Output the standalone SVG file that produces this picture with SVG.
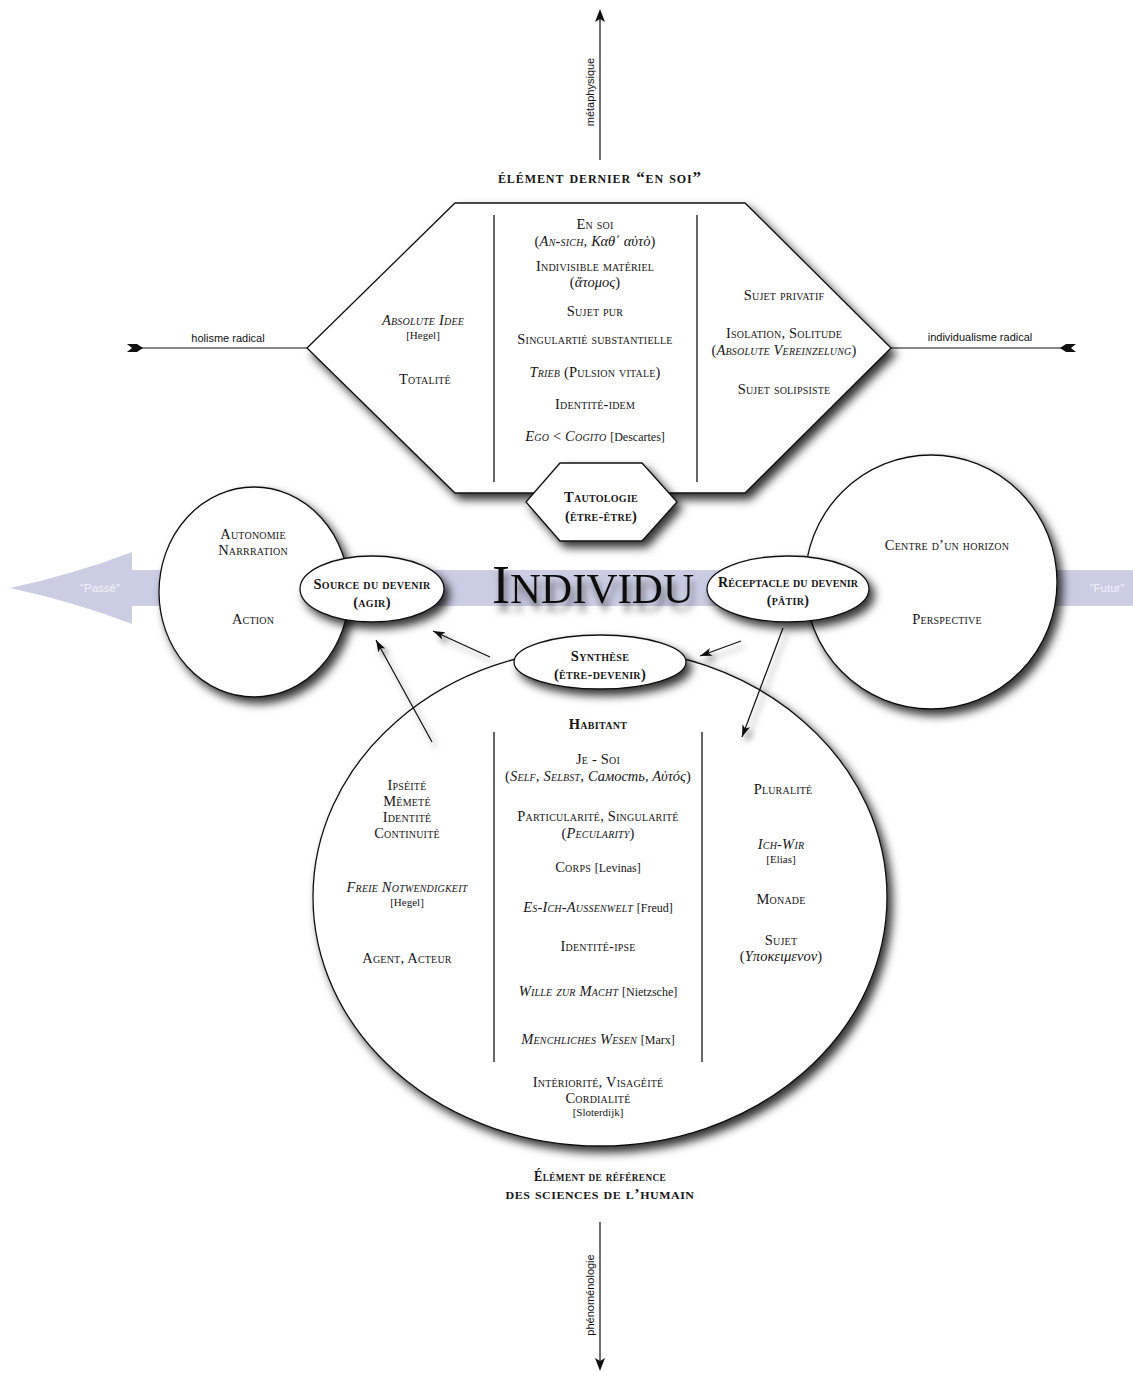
<svg xmlns="http://www.w3.org/2000/svg" width="1133" height="1374" viewBox="0 0 1133 1374">
<defs>
<style>
.t{font-family:"Liberation Serif",serif;font-size:14.5px;font-variant:small-caps;text-anchor:middle;fill:#161616;letter-spacing:0.2px}
.b{font-weight:bold;font-size:14.5px;letter-spacing:0.3px}
.h{font-weight:bold;font-size:17px;letter-spacing:0.9px}
.i{font-style:italic}
.g{font-variant:normal;letter-spacing:0}
.r{font-size:12px;font-variant:normal;letter-spacing:0}
.rs{font-size:11px;font-variant:normal;letter-spacing:0}
.s{font-family:"Liberation Sans",sans-serif;font-size:11px;fill:#111;text-anchor:middle}
.w{font-family:"Liberation Sans",sans-serif;font-size:11.5px;fill:#f2f3fa;text-anchor:middle}
.sh{fill:#fff;stroke:#111;stroke-width:1.3}
.div{stroke:#333;stroke-width:1.5;fill:none}
.ln{stroke:#111;stroke-width:1.2;fill:none}
</style>
<filter id="ds" x="-20%" y="-20%" width="150%" height="150%"><feDropShadow dx="5" dy="6" stdDeviation="5" flood-color="#000" flood-opacity="0.8"/></filter>
<filter id="ts" x="-10%" y="-30%" width="120%" height="170%"><feDropShadow dx="3" dy="8" stdDeviation="3.5" flood-color="#000" flood-opacity="0.5"/></filter>
<filter id="as" x="-50%" y="-50%" width="200%" height="200%"><feDropShadow dx="4" dy="5" stdDeviation="3" flood-color="#000" flood-opacity="0.5"/></filter>
<marker id="ah" viewBox="0 0 12 8" refX="12" refY="4" markerWidth="12" markerHeight="8" markerUnits="userSpaceOnUse" orient="auto"><path d="M0,0 L12,4 L0,8 L3,4 Z" fill="#111"/></marker>
</defs>

<g id="band">
<path d="M10,588 Q75,574 132,552 L132,570 L1133,570 L1133,606 L132,606 L132,624 Q75,602 10,588 Z" fill="#cbcde4"/>
<text class="w" x="100" y="592">“Passé”</text>
<text class="w" x="1107" y="592">“Futur”</text>
</g>

<g id="axes">
<line class="ln" x1="600" y1="160" x2="600" y2="18"/>
<path d="M600,9 L605,22 L600,19 L595,22 Z" fill="#111"/>
<text class="s" transform="translate(594,92) rotate(-90)" font-size="11.5">métaphysique</text>
<line class="ln" x1="600" y1="1222" x2="600" y2="1362"/>
<path d="M600,1371 L605,1358 L600,1361 L595,1358 Z" fill="#111"/>
<text class="s" transform="translate(594,1295) rotate(-90)" font-size="11.5">phénoménologie</text>
<line class="ln" x1="135" y1="348" x2="307" y2="348"/>
<path d="M127,344 L137,344 L143,348 L137,352 L127,352 L132,348 Z" fill="#111"/>
<text class="s" x="228" y="342">holisme radical</text>
<line class="ln" x1="891" y1="348" x2="1068" y2="348"/>
<path d="M1076,344 L1066,344 L1060,348 L1066,352 L1076,352 L1071,348 Z" fill="#111"/>
<text class="s" x="980" y="341">individualisme radical</text>
</g>

<g id="title-top"><text class="t h" x="600" y="183">élément dernier “en soi”</text></g>

<g id="hexagone">
<polygon class="sh" filter="url(#ds)" points="455,203 745,203 891,348 745,493 455,493 307,348"/>
<line class="div" x1="494" y1="215" x2="494" y2="482"/>
<line class="div" x1="697" y1="215" x2="697" y2="482"/>
<text class="t" x="595" y="229">En soi</text>
<text class="t" x="595" y="246">(<tspan class="i">An-sich, </tspan><tspan class="i g">Καθ΄ αὑτὸ</tspan>)</text>
<text class="t" x="595" y="271">Indivisible matériel</text>
<text class="t" x="595" y="287">(<tspan class="i g">ἄτομος</tspan>)</text>
<text class="t" x="595" y="316">Sujet pur</text>
<text class="t" x="595" y="344">Singulartié substantielle</text>
<text class="t" x="595" y="377"><tspan class="i">Trieb</tspan> (Pulsion vitale)</text>
<text class="t" x="595" y="409">Identité-idem</text>
<text class="t" x="595" y="441"><tspan class="i">Ego</tspan> &lt; <tspan class="i">Cogito</tspan> <tspan class="r">[Descartes]</tspan></text>
<text class="t i" x="423" y="325">Absolute Idee</text>
<text class="t rs" x="423" y="339">[Hegel]</text>
<text class="t" x="425" y="384">Totalité</text>
<text class="t" x="784" y="300">Sujet privatif</text>
<text class="t" x="784" y="338">Isolation, Solitude</text>
<text class="t" x="784" y="355">(<tspan class="i">Absolute Vereinzelung</tspan>)</text>
<text class="t" x="784" y="394">Sujet solipsiste</text>
</g>

<g id="tautologie">
<polygon class="sh" filter="url(#ds)" points="560,463 642,463 677,502 642,541 560,541 526,502"/>
<text class="t b" x="601" y="502">Tautologie</text>
<text class="t b" x="601" y="521">(être-être)</text>
</g>

<g id="cercle-gauche">
<ellipse class="sh" filter="url(#ds)" cx="254" cy="592" rx="95" ry="105"/>
<text class="t" x="253" y="539">Autonomie</text>
<text class="t" x="253" y="555">Narrration</text>
<text class="t" x="253" y="624">Action</text>
</g>

<g id="cercle-droit">
<ellipse class="sh" filter="url(#ds)" cx="931" cy="582" rx="126" ry="127"/>
<text class="t" x="947" y="550">Centre d’un horizon</text>
<text class="t" x="947" y="624">Perspective</text>
</g>

<g id="source">
<ellipse class="sh" filter="url(#ds)" cx="372" cy="589" rx="72" ry="33"/>
<text class="t b" x="372" y="589" font-size="14px">Source du devenir</text>
<text class="t b" x="372" y="607" font-size="14px">(agir)</text>
</g>

<g id="receptacle">
<ellipse class="sh" filter="url(#ds)" cx="788" cy="589" rx="81" ry="33"/>
<text class="t b" x="788" y="587" style="font-size:14px;letter-spacing:0.1px">Réceptacle du devenir</text>
<text class="t b" x="788" y="605" style="font-size:14px">(pâtir)</text>
</g>

<g id="individu">
<text x="593" y="603" font-family="'Liberation Serif',serif" font-size="54" text-anchor="middle" fill="#111" filter="url(#ts)">I<tspan font-size="43" style="text-transform:uppercase">ndividu</tspan></text>
</g>

<g id="habitant">
<ellipse class="sh" filter="url(#ds)" cx="600" cy="897" rx="287" ry="249"/>
<line class="div" x1="494" y1="732" x2="494" y2="1062"/>
<line class="div" x1="702" y1="732" x2="702" y2="1062"/>
<text class="t b" x="598" y="729">Habitant</text>
<text class="t" x="598" y="764">Je - Soi</text>
<text class="t" x="598" y="781">(<tspan class="i">Self, Selbst, </tspan><tspan class="i g">Самость, Αὐτός</tspan>)</text>
<text class="t" x="598" y="821">Particularité, Singularité</text>
<text class="t" x="598" y="838">(<tspan class="i">Pecularity</tspan>)</text>
<text class="t" x="598" y="872">Corps <tspan class="r">[Levinas]</tspan></text>
<text class="t" x="598" y="912"><tspan class="i">Es-Ich-Aussenwelt</tspan> <tspan class="r">[Freud]</tspan></text>
<text class="t" x="598" y="951">Identité-ipse</text>
<text class="t" x="598" y="996"><tspan class="i">Wille zur Macht</tspan> <tspan class="r">[Nietzsche]</tspan></text>
<text class="t" x="598" y="1044"><tspan class="i">Menchliches Wesen</tspan> <tspan class="r">[Marx]</tspan></text>
<text class="t" x="598" y="1087">Intériorité, Visagéité</text>
<text class="t" x="598" y="1103">Cordialité</text>
<text class="t rs" x="598" y="1116">[Sloterdijk]</text>
<text class="t" x="407" y="790">Ipséité</text>
<text class="t" x="407" y="806">Mêmeté</text>
<text class="t" x="407" y="822">Identité</text>
<text class="t" x="407" y="838">Continuité</text>
<text class="t i" x="407" y="892">Freie Notwendigkeit</text>
<text class="t rs" x="407" y="906">[Hegel]</text>
<text class="t" x="407" y="963">Agent, Acteur</text>
<text class="t" x="783" y="794">Pluralité</text>
<text class="t i" x="781" y="849">Ich-Wir</text>
<text class="t rs" x="781" y="863">[Elias]</text>
<text class="t" x="781" y="904">Monade</text>
<text class="t" x="781" y="945">Sujet</text>
<text class="t" x="781" y="961">(<tspan class="i g">Υποκειμενον</tspan>)</text>
</g>

<g id="synthese">
<ellipse class="sh" filter="url(#ds)" cx="600" cy="662" rx="86" ry="27"/>
<text class="t b" x="600" y="661">Synthèse</text>
<text class="t b" x="600" y="679">(être-devenir)</text>
</g>

<g id="title-bottom">
<text class="t h" x="600" y="1181" style="font-size:15px;letter-spacing:0.5px" textLength="132" lengthAdjust="spacingAndGlyphs">Élément de référence</text>
<text class="t h" x="600" y="1199" style="font-size:15px;letter-spacing:0.5px" textLength="189" lengthAdjust="spacingAndGlyphs">des sciences de l’humain</text>
</g>

<g id="connecteurs" filter="url(#as)">
<line class="ln" x1="432" y1="742" x2="376" y2="640" marker-end="url(#ah)"/>
<line class="ln" x1="490" y1="657" x2="433" y2="631" marker-end="url(#ah)"/>
<line class="ln" x1="741" y1="641" x2="700" y2="656" marker-end="url(#ah)"/>
<line class="ln" x1="783" y1="628" x2="742" y2="737" marker-end="url(#ah)"/>
</g>
</svg>
